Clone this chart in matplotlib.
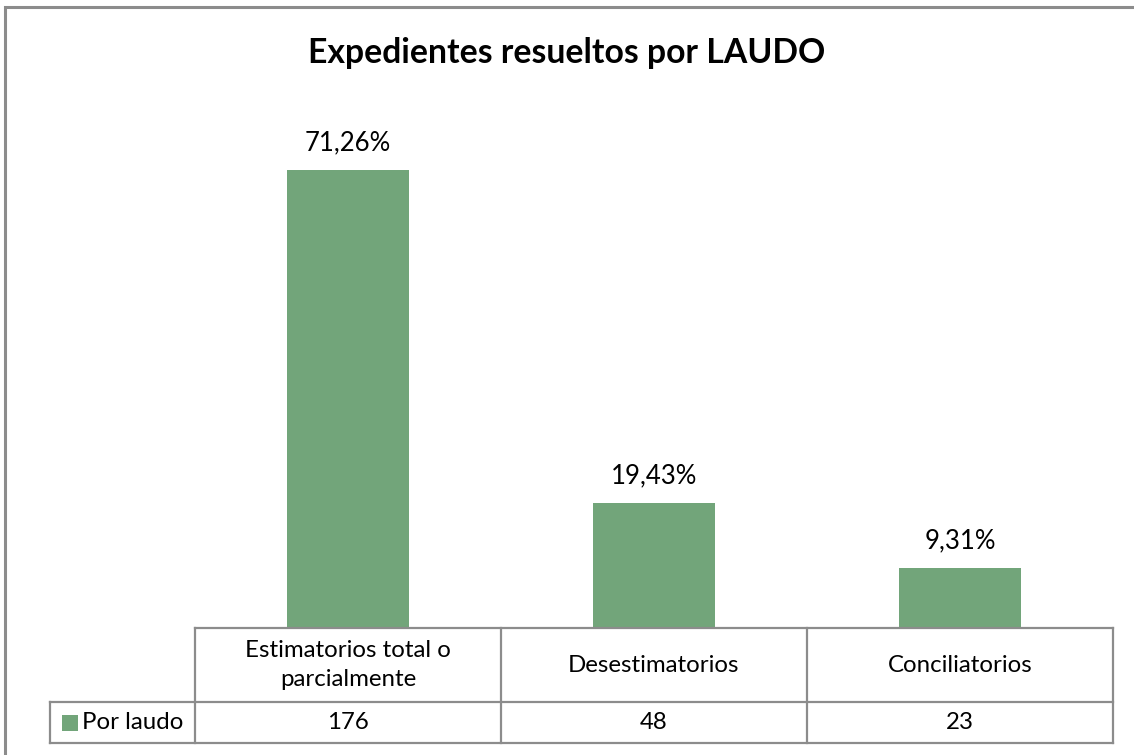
import matplotlib
matplotlib.use("Agg")
import matplotlib.pyplot as plt
from matplotlib.lines import Line2D
from matplotlib.patches import Rectangle
import matplotlib.transforms as mtransforms

# ---- data ----
categories = ["Estimatorios total o\nparcialmente", "Desestimatorios", "Conciliatorios"]
percentages = [71.26, 19.43, 9.31]
counts = [176, 48, 23]
pct_labels = ["71,26%", "19,43%", "9,31%"]
series_name = "Por laudo"
title = "Expedientes resueltos por LAUDO"

W, H = 1134, 755
DPI = 100
plt.rcParams['font.family'] = ['Lato', 'DejaVu Sans']
fig = plt.figure(figsize=(W / DPI, H / DPI), dpi=DPI)

BAR = '#72A57A'
GRID = '#8C8C8C'

def fx(px):
    return px / W

def fy(py):
    return 1 - py / H

# axes: x 195..1113, y 114..628
ax = fig.add_axes([fx(195), fy(628), fx(1113) - fx(195), fy(114) - fy(628)])
x = list(range(len(categories)))
ax.bar(x, percentages, width=0.4, color=BAR, zorder=2)
ax.set_xlim(-0.5, len(categories) - 0.5)
ax.set_ylim(0, 80)
ax.axis('off')
for xi, v, lab in zip(x, percentages, pct_labels):
    ax.annotate(lab, (xi, v), xytext=(0, 11), textcoords='offset points',
                ha='center', va='bottom', fontsize=18.5, color='#000000')

fig.text(0.5, fy(53), title, ha='center', va='center', fontsize=24.3,
         fontweight='bold', color='#000000')

# outer chart border
fig.patches.append(Rectangle((fx(5), fy(760)), fx(1140) - fx(5), fy(7) - fy(760),
                             transform=fig.transFigure, fill=False,
                             edgecolor='#8C8C8C', linewidth=2.2))

# data table: x in data coords, y in figure coords
tr = mtransforms.blended_transform_factory(ax.transData, fig.transFigure)
x_left_legend = -0.5 - (195 - 50) / 306.0
y_top, y_mid, y_bot = fy(628), fy(702), fy(743)
n = len(categories)

def line(xs, ys):
    fig.add_artist(Line2D(xs, ys, transform=tr, color=GRID, linewidth=1.6,
                          clip_on=False))

line([-0.5, n - 0.5], [y_top, y_top])
line([x_left_legend, n - 0.5], [y_mid, y_mid])
line([x_left_legend, n - 0.5], [y_bot, y_bot])
line([x_left_legend, x_left_legend], [y_mid, y_bot])
for i in range(n + 1):
    line([i - 0.5, i - 0.5], [y_top, y_bot])

for xi, cat, c in zip(x, categories, counts):
    fig.text(xi, (y_top + y_mid) / 2, cat, transform=tr, ha='center',
             va='center', fontsize=17.3, linespacing=1.45, color='#000000')
    fig.text(xi, (y_mid + y_bot) / 2, str(c), transform=tr, ha='center',
             va='center', fontsize=17.3, color='#000000')

# legend key
key_x0 = x_left_legend + 12 / 306.0
fig.patches.append(Rectangle((key_x0, fy(731)), 16 / 306.0, fy(715) - fy(731),
                             transform=tr, facecolor=BAR, edgecolor='none'))
fig.text(x_left_legend + 32 / 306.0, (y_mid + y_bot) / 2, series_name,
         transform=tr, ha='left', va='center', fontsize=17.3, color='#000000')

fig.savefig('out.png', dpi=DPI, facecolor='white')
